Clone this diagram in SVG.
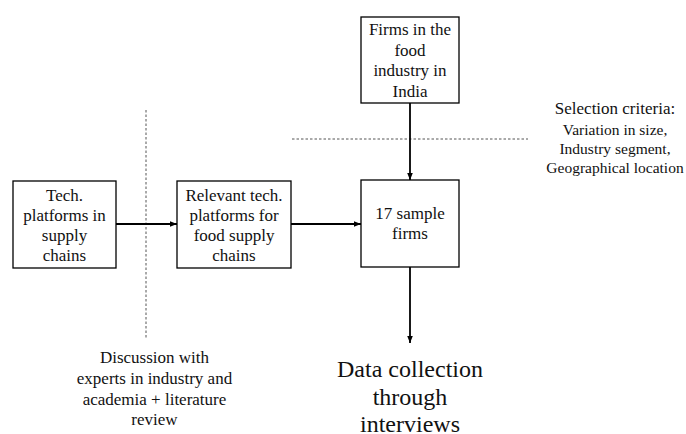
<svg xmlns="http://www.w3.org/2000/svg" width="686" height="434" viewBox="0 0 686 434" font-family="'Liberation Serif', 'Times New Roman', 'DejaVu Serif', serif">
<style>
.box{fill:#fff;stroke:#000;stroke-width:1.3}
text{font-family:'Liberation Serif','Times New Roman','DejaVu Serif',serif;font-size:17px;fill:#111;text-anchor:middle}
.s{font-size:15.5px}
.big{font-size:24px}
.arr{stroke:#000;stroke-width:1.8;fill:none;marker-end:url(#ah)}
.dash{stroke:#555;stroke-width:1;stroke-dasharray:2.5,2;fill:none}
</style>
<defs>
<marker id="ah" viewBox="0 0 10 10" refX="10" refY="5" markerWidth="4" markerHeight="4" orient="auto" markerUnits="strokeWidth">
<path d="M0,1 L10,5 L0,9 z" fill="#000"/>
</marker>
</defs>
<rect width="686" height="434" fill="#fff"/>
<g id="guides">
<line class="dash" x1="146" y1="110" x2="146" y2="338"/>
<line class="dash" x1="292" y1="139" x2="528" y2="139"/>
</g>
<g id="connectors">
<line class="arr" x1="116" y1="224" x2="177" y2="224"/>
<line class="arr" x1="291" y1="224" x2="361" y2="224"/>
<line class="arr" x1="410" y1="103" x2="410" y2="180"/>
<line class="arr" x1="410" y1="267" x2="410" y2="343"/>
</g>
<g id="n1">
<rect class="box" x="13" y="181" width="103" height="87"/>
<text x="64.5" y="201">Tech.</text>
<text x="64.5" y="221">platforms in</text>
<text x="64.5" y="241">supply</text>
<text x="64.5" y="261">chains</text>
</g>
<g id="n2">
<rect class="box" x="177" y="181" width="114" height="87"/>
<text x="234" y="201">Relevant tech.</text>
<text x="234" y="221">platforms for</text>
<text x="234" y="241">food supply</text>
<text x="234" y="261">chains</text>
</g>
<g id="n3">
<rect class="box" x="361" y="180" width="98" height="87"/>
<text x="410" y="219">17 sample</text>
<text x="410" y="239">firms</text>
</g>
<g id="n4">
<rect class="box" x="361" y="17" width="98" height="86"/>
<text x="410" y="35">Firms in the</text>
<text x="410" y="56">food</text>
<text x="410" y="76">industry in</text>
<text x="410" y="97">India</text>
</g>
<g id="criteria">
<text x="615" y="114">Selection criteria:</text>
<text class="s" x="615" y="135">Variation in size,</text>
<text class="s" x="615" y="154">Industry segment,</text>
<text class="s" x="615" y="173">Geographical location</text>
</g>
<g id="discussion">
<text x="154.5" y="363">Discussion with</text>
<text x="154.5" y="384">experts in industry and</text>
<text x="154.5" y="405">academia + literature</text>
<text x="154.5" y="425">review</text>
</g>
<g id="data">
<text class="big" x="410" y="377">Data collection</text>
<text class="big" x="410" y="405">through</text>
<text class="big" x="410" y="432">interviews</text>
</g>
</svg>
